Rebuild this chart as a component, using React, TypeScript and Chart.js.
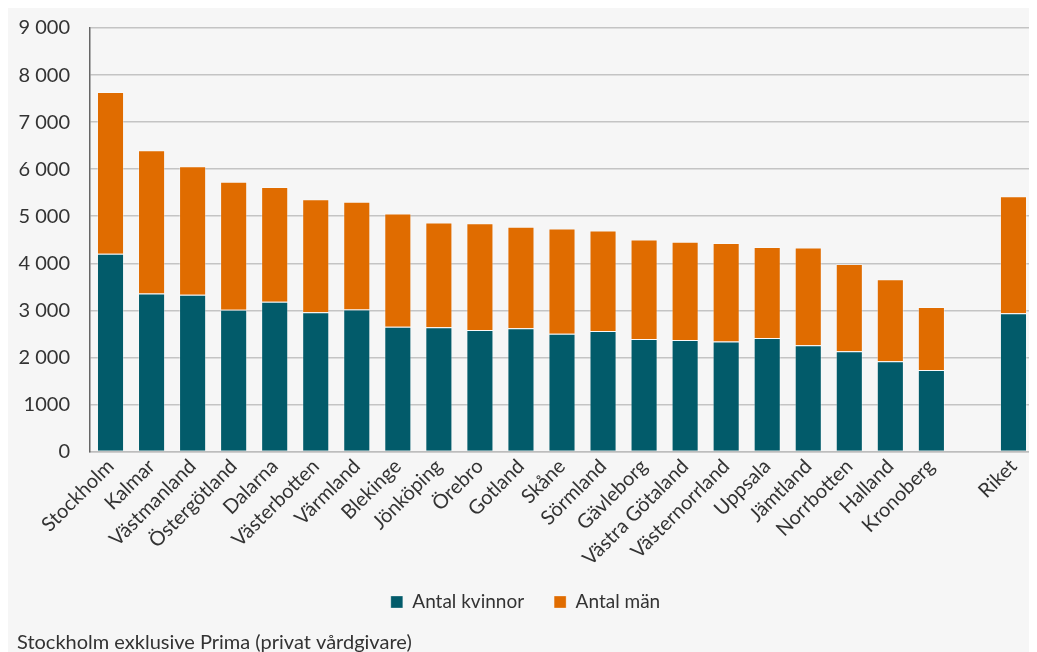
import React, { useEffect, useRef } from "react";
import { Chart, registerables } from "chart.js";

Chart.register(...registerables);

const categories = [
  "Stockholm", "Kalmar", "Västmanland", "Östergötland", "Dalarna", "Västerbotten",
  "Värmland", "Blekinge", "Jönköping", "Örebro", "Gotland", "Skåne", "Sörmland",
  "Gävleborg", "Västra Götaland", "Västernorrland", "Uppsala", "Jämtland",
  "Norrbotten", "Halland", "Kronoberg", "", "Riket",
];

const womenValues = [
  4200, 3360, 3330, 3010, 3180, 2960, 3020, 2650, 2640, 2580, 2620, 2500, 2560,
  2390, 2370, 2340, 2410, 2260, 2130, 1920, 1730, null, 2940,
];

const menValues = [
  3440, 3040, 2730, 2720, 2440, 2400, 2290, 2410, 2225, 2270, 2155, 2240, 2135,
  2115, 2090, 2090, 1935, 2075, 1855, 1740, 1340, null, 2485,
];

const yTickLabels = ["0", "1000", "2 000", "3 000", "4 000", "5 000", "6 000", "7 000", "8 000", "9 000"];

const seriesLabels = ["Antal kvinnor", "Antal män"];
const caption = "Stockholm exklusive Prima (privat vårdgivare)";

const FONT = "Lato, 'Noto Sans', sans-serif";
const TEXT = "#333333";

export default function App() {
  const ref = useRef<HTMLCanvasElement | null>(null);

  useEffect(() => {
    if (!ref.current) return;
    const chart = new Chart(ref.current, {
      type: "bar",
      data: {
        labels: categories,
        datasets: [
          {
            label: seriesLabels[0],
            data: womenValues,
            backgroundColor: "#025b6a",
            borderColor: "rgba(255,255,255,0.3)",
            borderWidth: 1,
            barPercentage: 0.66,
            categoryPercentage: 1,
          },
          {
            label: seriesLabels[1],
            data: menValues,
            backgroundColor: "#e06c00",
            borderColor: "rgba(255,255,255,0.3)",
            borderWidth: 1,
            barPercentage: 0.66,
            categoryPercentage: 1,
          },
        ],
      },
      options: {
        responsive: false,
        animation: false,
        devicePixelRatio: 1,
        layout: { padding: { left: 10, right: 3, top: 9, bottom: 0 } },
        scales: {
          x: {
            stacked: true,
            grid: { display: false, drawTicks: false },
            border: { color: "#bdbdbd", width: 1.5 },
            ticks: {
              autoSkip: false,
              maxRotation: 45,
              minRotation: 45,
              color: TEXT,
              font: { family: FONT, size: 20 },
              padding: 3,
            },
            afterFit: (scale: any) => {
              scale.height = 111;
            },
          },
          y: {
            stacked: true,
            min: 0,
            max: 9000,
            ticks: {
              stepSize: 1000,
              color: TEXT,
              font: { family: FONT, size: 20 },
              padding: 9,
              callback: (v: any) => yTickLabels[Math.round(Number(v) / 1000)],
            },
            grid: {
              color: "#c4c4c4",
              lineWidth: 1.5,
              drawTicks: true,
              tickLength: 11,
              tickColor: "rgba(0,0,0,0)",
            },
            border: { color: "#666666", width: 1.5 },
            afterFit: (scale: any) => {
              scale.width = 73;
            },
          },
        },
        plugins: {
          legend: {
            position: "bottom",
            labels: {
              boxWidth: 12,
              boxHeight: 12,
              padding: 30,
              color: TEXT,
              font: { family: FONT, size: 19 },
            },
          },
          subtitle: {
            display: true,
            text: caption,
            position: "bottom",
            align: "start",
            color: TEXT,
            font: { family: FONT, size: 20, weight: "normal", lineHeight: 0.6 },
            padding: { top: 15.5, bottom: 3 },
          },
          tooltip: { enabled: false },
        },
      },
    });
    return () => chart.destroy();
  }, []);

  return (
    <div
      style={{
        background: "#f6f6f6",
        width: 1030,
        height: 645,
        margin: "-1px 0 0 -1px",
      }}
    >
      <canvas ref={ref} width={1030} height={645} style={{ display: "block" }} />
    </div>
  );
}
